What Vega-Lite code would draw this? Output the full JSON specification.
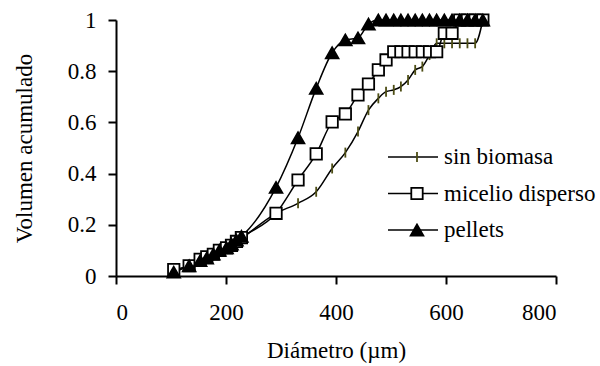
{
  "$schema": "https://vega.github.io/schema/vega-lite/v6.json",
  "autosize": {"type": "none"},
  "padding": {"left": 116, "top": 20, "right": 44, "bottom": 90},
  "width": 440,
  "height": 256,
  "background": "white",
  "config": {
    "view": {"stroke": null},
    "font": "Liberation Serif",
    "axis": {
      "domainColor": "black", "domainWidth": 2, "tickColor": "black", "tickWidth": 2, "tickSize": 8,
      "grid": false, "labelFont": "Liberation Serif", "labelFontSize": 23, "labelColor": "black",
      "titleFont": "Liberation Serif", "titleFontSize": 23, "titleFontWeight": "normal", "titleColor": "black"
    },
    "legend": {"labelFont": "Liberation Serif", "labelFontSize": 23, "labelColor": "black", "clipHeight": 24, "rowPadding": 12.5, "padding": 0}
  },
  "data": {
    "values": [
      {"d":105,"v":0.02,"s":"sin biomasa"},{"d":133,"v":0.04,"s":"sin biomasa"},{"d":153,"v":0.06,"s":"sin biomasa"},{"d":165,"v":0.07,"s":"sin biomasa"},{"d":177,"v":0.08,"s":"sin biomasa"},{"d":188,"v":0.095,"s":"sin biomasa"},{"d":201,"v":0.105,"s":"sin biomasa"},{"d":210,"v":0.115,"s":"sin biomasa"},{"d":219,"v":0.13,"s":"sin biomasa"},{"d":228,"v":0.145,"s":"sin biomasa"},
      {"d":291,"v":0.245,"s":"sin biomasa"},{"d":331,"v":0.284,"s":"sin biomasa"},{"d":364,"v":0.329,"s":"sin biomasa"},{"d":393,"v":0.42,"s":"sin biomasa"},{"d":417,"v":0.482,"s":"sin biomasa"},{"d":440,"v":0.564,"s":"sin biomasa"},{"d":459,"v":0.648,"s":"sin biomasa"},{"d":477,"v":0.694,"s":"sin biomasa"},{"d":491,"v":0.72,"s":"sin biomasa"},{"d":505,"v":0.727,"s":"sin biomasa"},{"d":518,"v":0.74,"s":"sin biomasa"},{"d":531,"v":0.766,"s":"sin biomasa"},{"d":544,"v":0.805,"s":"sin biomasa"},{"d":557,"v":0.818,"s":"sin biomasa"},{"d":570,"v":0.863,"s":"sin biomasa"},{"d":583,"v":0.909,"s":"sin biomasa"},{"d":597,"v":0.909,"s":"sin biomasa"},{"d":611,"v":0.909,"s":"sin biomasa"},{"d":625,"v":0.909,"s":"sin biomasa"},{"d":639,"v":0.909,"s":"sin biomasa"},{"d":653,"v":0.909,"s":"sin biomasa"},{"d":667,"v":1.0,"s":"sin biomasa"},
      {"d":105,"v":0.025,"s":"micelio disperso"},{"d":133,"v":0.04,"s":"micelio disperso"},{"d":153,"v":0.065,"s":"micelio disperso"},{"d":165,"v":0.075,"s":"micelio disperso"},{"d":177,"v":0.085,"s":"micelio disperso"},{"d":188,"v":0.1,"s":"micelio disperso"},{"d":201,"v":0.11,"s":"micelio disperso"},{"d":210,"v":0.12,"s":"micelio disperso"},{"d":219,"v":0.135,"s":"micelio disperso"},{"d":228,"v":0.15,"s":"micelio disperso"},
      {"d":291,"v":0.245,"s":"micelio disperso"},{"d":331,"v":0.375,"s":"micelio disperso"},{"d":364,"v":0.477,"s":"micelio disperso"},{"d":393,"v":0.602,"s":"micelio disperso"},{"d":417,"v":0.633,"s":"micelio disperso"},{"d":440,"v":0.707,"s":"micelio disperso"},{"d":459,"v":0.75,"s":"micelio disperso"},{"d":477,"v":0.805,"s":"micelio disperso"},{"d":491,"v":0.844,"s":"micelio disperso"},{"d":505,"v":0.876,"s":"micelio disperso"},{"d":518,"v":0.876,"s":"micelio disperso"},{"d":531,"v":0.876,"s":"micelio disperso"},{"d":544,"v":0.876,"s":"micelio disperso"},{"d":557,"v":0.876,"s":"micelio disperso"},{"d":570,"v":0.876,"s":"micelio disperso"},{"d":583,"v":0.876,"s":"micelio disperso"},{"d":597,"v":0.948,"s":"micelio disperso"},{"d":611,"v":0.948,"s":"micelio disperso"},{"d":625,"v":1.0,"s":"micelio disperso"},{"d":639,"v":1.0,"s":"micelio disperso"},{"d":653,"v":1.0,"s":"micelio disperso"},{"d":667,"v":1.0,"s":"micelio disperso"},
      {"d":105,"v":0.015,"s":"pellets"},{"d":133,"v":0.04,"s":"pellets"},{"d":153,"v":0.06,"s":"pellets"},{"d":165,"v":0.07,"s":"pellets"},{"d":177,"v":0.085,"s":"pellets"},{"d":188,"v":0.1,"s":"pellets"},{"d":201,"v":0.11,"s":"pellets"},{"d":210,"v":0.125,"s":"pellets"},{"d":219,"v":0.14,"s":"pellets"},{"d":228,"v":0.155,"s":"pellets"},
      {"d":291,"v":0.346,"s":"pellets"},{"d":331,"v":0.54,"s":"pellets"},{"d":364,"v":0.733,"s":"pellets"},{"d":393,"v":0.872,"s":"pellets"},{"d":417,"v":0.922,"s":"pellets"},{"d":440,"v":0.93,"s":"pellets"},{"d":459,"v":0.984,"s":"pellets"},{"d":477,"v":1.0,"s":"pellets"},{"d":491,"v":1.0,"s":"pellets"},{"d":505,"v":1.0,"s":"pellets"},{"d":518,"v":1.0,"s":"pellets"},{"d":531,"v":1.0,"s":"pellets"},{"d":544,"v":1.0,"s":"pellets"},{"d":557,"v":1.0,"s":"pellets"},{"d":570,"v":1.0,"s":"pellets"},{"d":583,"v":1.0,"s":"pellets"},{"d":597,"v":1.0,"s":"pellets"},{"d":611,"v":1.0,"s":"pellets"},{"d":625,"v":1.0,"s":"pellets"},{"d":639,"v":1.0,"s":"pellets"},{"d":653,"v":1.0,"s":"pellets"},{"d":667,"v":1.0,"s":"pellets"}
    ]
  },
  "encoding": {
    "x": {
      "field": "d", "type": "quantitative",
      "scale": {"domain": [0, 800], "nice": false},
      "axis": {"values": [0, 200, 400, 600, 800], "format": "d", "title": "Diámetro (µm)", "labelPadding": 17, "titlePadding": 15}
    },
    "y": {
      "field": "v", "type": "quantitative",
      "scale": {"domain": [0, 1], "nice": false},
      "axis": {"values": [0, 0.2, 0.4, 0.6, 0.8, 1], "format": "~g", "title": "Volumen acumulado", "labelPadding": 12, "titlePadding": 31}
    }
  },
  "layer": [
    {
      "mark": {"type": "line", "interpolate": "monotone", "strokeWidth": 1.5},
      "encoding": {
        "color": {
          "field": "s", "type": "nominal",
          "scale": {"range": ["black", "black", "black"]},
          "legend": {
            "orient": "none", "legendX": 271, "legendY": 125, "title": null,
            "symbolType": "stroke", "symbolSize": 2500, "symbolStrokeWidth": 1.5,
            "labelExpr": "''", "labelOffset": 0
          }
        }
      }
    },
    {
      "mark": {"type": "point", "opacity": 1, "strokeWidth": 1.8},
      "encoding": {
        "shape": {
          "field": "s", "type": "nominal",
          "scale": {"domain": ["sin biomasa", "micelio disperso", "pellets"], "range": ["M0,-1L0,1", "square", "triangle-up"]},
          "legend": {
            "orient": "none", "legendX": 289.5, "legendY": 125, "title": null,
            "labelOffset": 15.5, "symbolStrokeWidth": 1.8
          }
        },
        "size": {
          "field": "s", "type": "nominal",
          "scale": {"domain": ["sin biomasa", "micelio disperso", "pellets"], "range": [100, 160, 170]}
        },
        "fill": {
          "field": "s", "type": "nominal",
          "scale": {"domain": ["sin biomasa", "micelio disperso", "pellets"], "range": ["transparent", "white", "black"]}
        },
        "stroke": {
          "field": "s", "type": "nominal",
          "scale": {"domain": ["sin biomasa", "micelio disperso", "pellets"], "range": ["#4d4d14", "black", "black"]}
        }
      }
    }
  ]
}
